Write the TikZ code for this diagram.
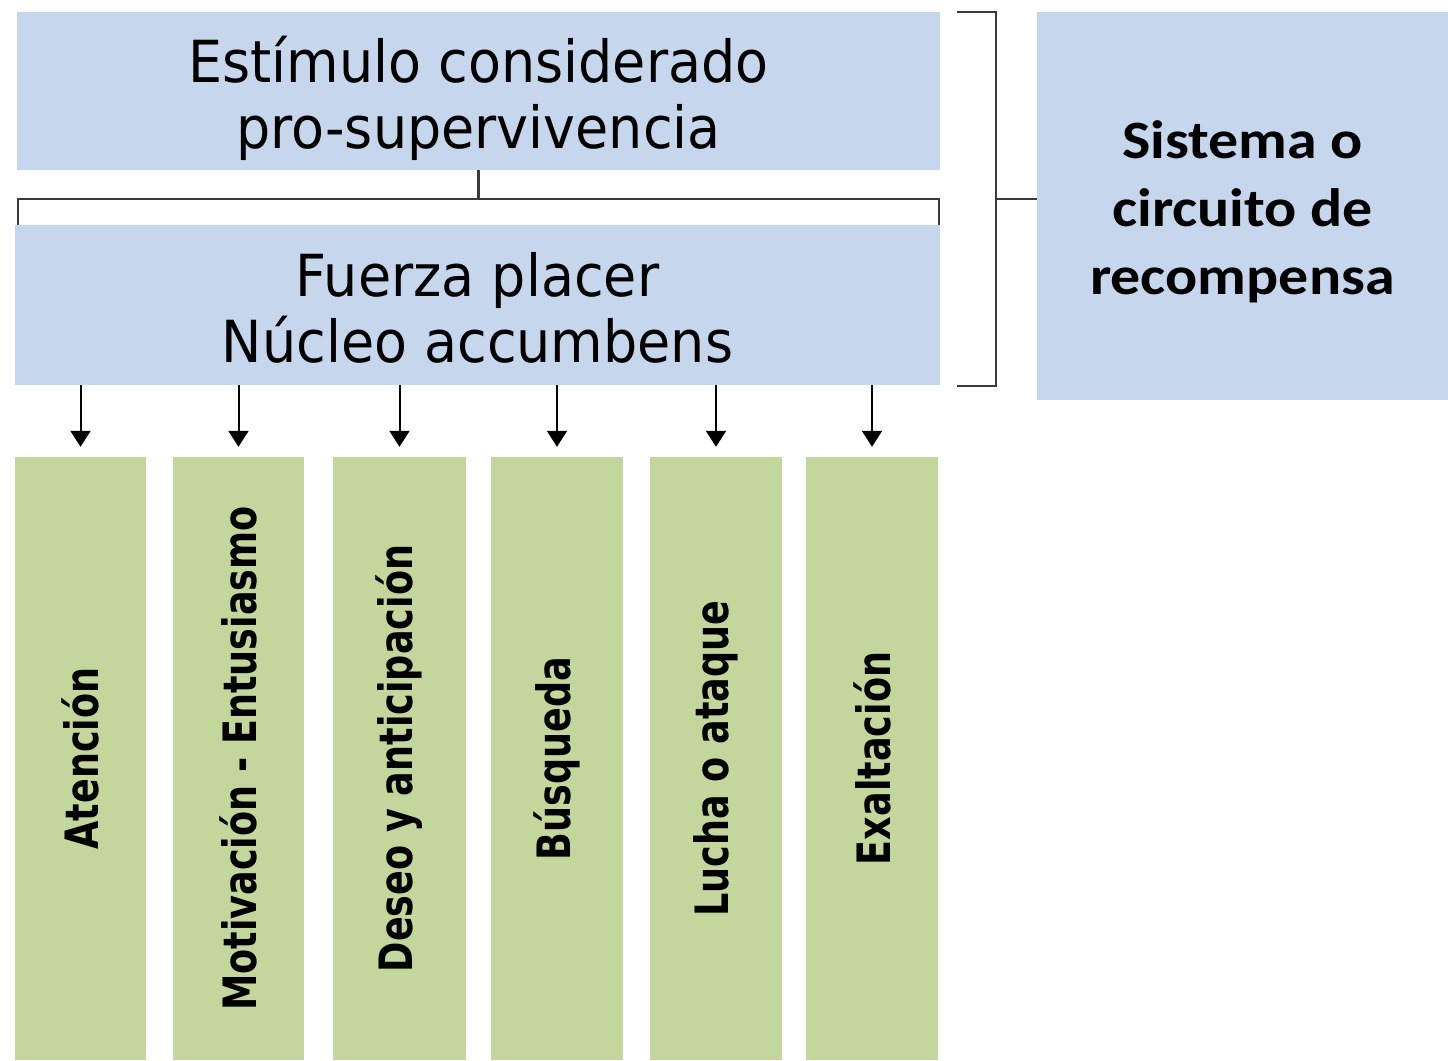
\documentclass[tikz,border=0pt]{standalone}
\usepackage{fontspec}
\usetikzlibrary{arrows.meta}
\newfontfamily\djfont[FakeStretch=0.93]{DejaVu Sans}
\newfontfamily\djbold[FakeStretch=0.795]{DejaVu Sans Bold}
\newfontfamily\calfont[FakeStretch=1.11]{Carlito Bold}
\definecolor{boxblue}{HTML}{C6D6EC}
\definecolor{boxgreen}{HTML}{C3D69B}
\definecolor{linegray}{HTML}{3A3A3A}
\tikzset{
  bluebox/.style={fill=boxblue, draw=none, inner sep=0pt},
  boxtext/.style={inner sep=0pt, align=center, text=black},
  greenbox/.style={fill=boxgreen, draw=none, inner sep=0pt, minimum height=603pt},
  bracketline/.style={draw=linegray, line width=2.2pt},
  downarrow/.style={draw=black, line width=2pt, -{Triangle[width=20pt,length=16pt]}, shorten >=10pt},
  vlabel/.style={rotate=90, inner sep=0pt, text=black, font=\djbold\fontsize{46}{50}\selectfont}
}
\begin{document}
\begin{tikzpicture}[x=1pt,y=-1pt]
\useasboundingbox (0,0) rectangle (1448,1060);
% blue boxes
\node[bluebox, minimum width=923pt, minimum height=158pt] (top) at (478.5,91) {};
\node[boxtext, font=\djfont\fontsize{58}{66}\selectfont] (toptxt) at ([yshift=-7pt]top.center)
  {Estímulo considerado\\pro-supervivencia};
\node[bluebox, minimum width=925pt, minimum height=160pt] (fuerza) at (477.5,305) {};
\node[boxtext, font=\djfont\fontsize{58}{66}\selectfont] (fuerzatxt) at ([yshift=-3pt]fuerza.center)
  {Fuerza placer\\Núcleo accumbens};
\node[bluebox, minimum width=411pt, minimum height=388pt] (sistema) at (1242.5,206) {};
\node[boxtext, font=\calfont\fontsize{54}{68}\selectfont] (sistematxt) at ([yshift=-6pt]sistema.center)
  {Sistema o\\circuito de\\recompensa};
% green boxes
\node[greenbox, minimum width=131pt] (g1) at (80.5,758.5) {};
\node[greenbox, minimum width=131pt] (g2) at (238.5,758.5) {};
\node[greenbox, minimum width=133pt] (g3) at (399.5,758.5) {};
\node[greenbox, minimum width=132pt] (g4) at (557,758.5) {};
\node[greenbox, minimum width=132pt] (g5) at (716,758.5) {};
\node[greenbox, minimum width=132pt] (g6) at (872,758.5) {};
\node[vlabel] (t1) at (g1.center) {Atención};
\node[vlabel] (t2) at (g2.center) {Motivación - Entusiasmo};
\node[vlabel] (t3) at (g3.center) {Deseo y anticipación};
\node[vlabel] (t4) at (g4.center) {Búsqueda};
\node[vlabel] (t5) at (g5.center) {Lucha o ataque};
\node[vlabel] (t6) at (g6.center) {Exaltación};
% arrows
\foreach \g in {g1,g2,g3,g4,g5,g6}{
  \draw[downarrow] (fuerza.south -| \g.north) -- (\g.north);
}
% inner bracket
\coordinate (bm) at (478.5,199);
\coordinate (bl) at (18,199);
\coordinate (br) at (939,199);
\draw[bracketline] (top.south) -- (bm);
\draw[bracketline] (bl |- fuerza.north) -- (bl) -- (br) -- (br |- fuerza.north);
% outer bracket
\coordinate (ot1) at (957,12);
\coordinate (ot2) at (996,12);
\coordinate (ob2) at (996,386);
\coordinate (ob1) at (957,386);
\coordinate (om) at (996,199);
\draw[bracketline] (ot1) -- (ot2) -- (ob2) -- (ob1);
\draw[bracketline] (om) -- (sistema.west |- om);
\end{tikzpicture}
\end{document}
